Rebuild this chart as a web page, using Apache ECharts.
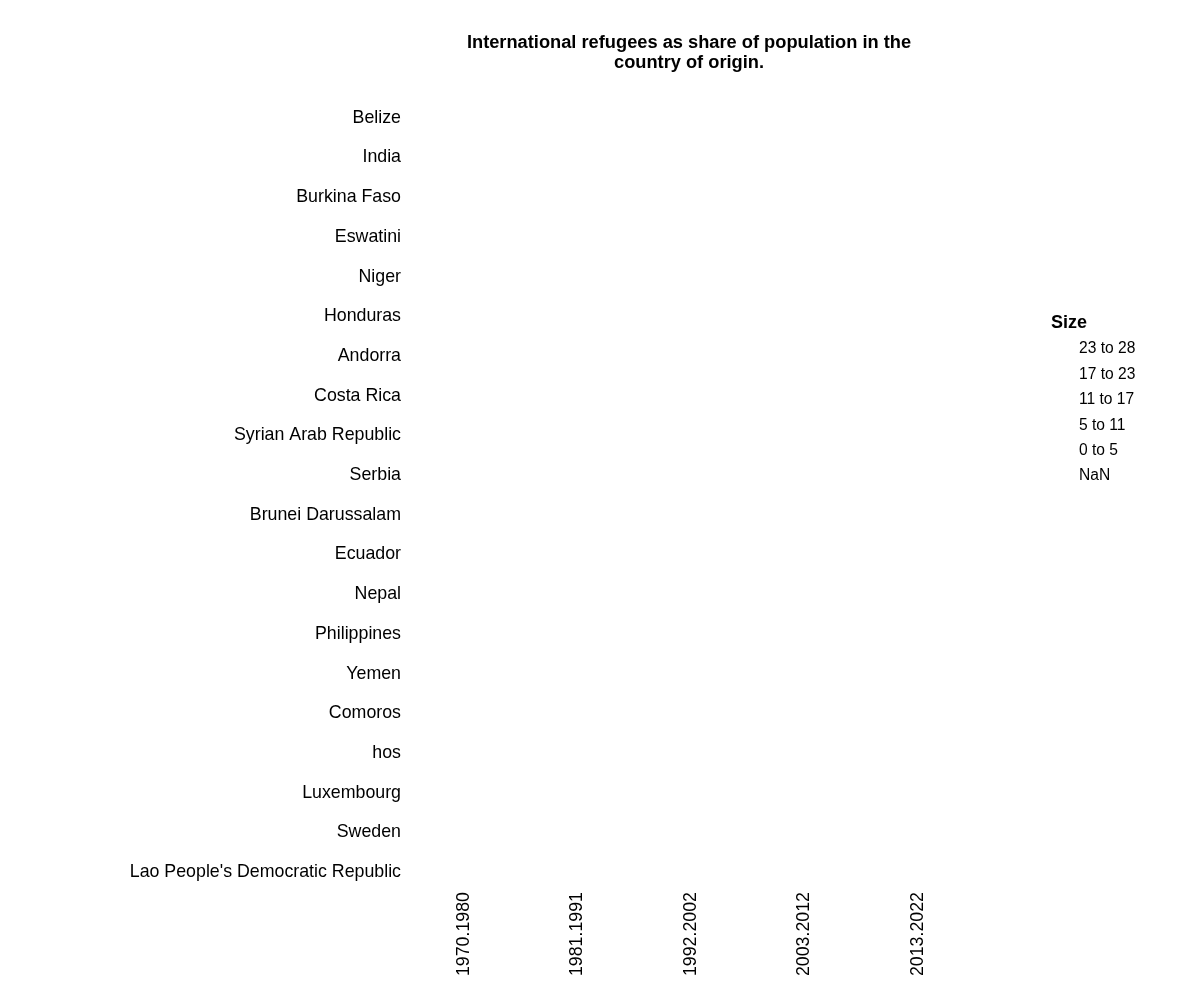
<!DOCTYPE html>
<html>
<head>
<meta charset="utf-8">
<script src="https://cdn.jsdelivr.net/npm/echarts@6/dist/echarts.min.js"></script>
<style>html,body{margin:0;padding:0;background:#fff}#c{width:1200px;height:1000px}</style>
</head>
<body>
<div id="c"></div>
<script>
var countries = ["Belize","India","Burkina Faso","Eswatini","Niger","Honduras","Andorra","Costa Rica","Syrian Arab Republic","Serbia","Brunei Darussalam","Ecuador","Nepal","Philippines","Yemen","Comoros","hos","Luxembourg","Sweden","Lao People's Democratic Republic"];
var periods = ["1970.1980","1981.1991","1992.2002","2003.2012","2013.2022"];
var sizeBins = ["23 to 28","17 to 23","11 to 17","5 to 11","0 to 5","NaN"];
// Values shown in the picture: none are drawn (all missing)
var sizes = [
  [null,null,null,null,null],[null,null,null,null,null],[null,null,null,null,null],[null,null,null,null,null],
  [null,null,null,null,null],[null,null,null,null,null],[null,null,null,null,null],[null,null,null,null,null],
  [null,null,null,null,null],[null,null,null,null,null],[null,null,null,null,null],[null,null,null,null,null],
  [null,null,null,null,null],[null,null,null,null,null],[null,null,null,null,null],[null,null,null,null,null],
  [null,null,null,null,null],[null,null,null,null,null],[null,null,null,null,null],[null,null,null,null,null]
];

var FONT = "'Liberation Sans', Arial, sans-serif";
var pts = [];
sizes.forEach(function(row, i){ row.forEach(function(v, j){ if (v !== null) pts.push([periods[j], countries[i], v]); }); });

var series = sizeBins.map(function(name){
  return { name: name, type: 'scatter', data: [], symbolSize: 10 };
});
series[0].data = pts;

var chart = echarts.init(document.getElementById('c'));
chart.setOption({
  animation: false,
  backgroundColor: '#ffffff',
  grid: { left: 407, top: 98, width: 568, height: 794 },
  xAxis: {
    type: 'category', data: periods,
    axisLine: {show:false}, axisTick: {show:false}, splitLine: {show:false},
    axisLabel: { rotate: 90, margin: 0, color: '#000', fontSize: 17.8, fontFamily: FONT, interval: 0 }
  },
  yAxis: {
    type: 'category', data: countries, inverse: true,
    axisLine: {show:false}, axisTick: {show:false}, splitLine: {show:false},
    axisLabel: { margin: 6, color: '#000', fontSize: 17.8, fontFamily: FONT, interval: 0 }
  },
  legend: {
    orient: 'vertical', left: 1049, top: 334,
    itemWidth: 20, itemHeight: 20, itemGap: 5.4,
    itemStyle: { opacity: 0 },
    textStyle: { color: '#000', fontSize: 15.6, fontFamily: FONT, lineHeight: 20 },
    data: sizeBins, selectedMode: false
  },
  graphic: [
    { type: 'text', x: 689, y: 53, style: { text: 'International refugees as share of population in the\ncountry of origin.', x: 0, y: 0, align: 'center', verticalAlign: 'middle', font: 'bold 18.25px ' + FONT, lineHeight: 20, fill: '#000' } },
    { type: 'text', x: 1051, y: 323, style: { text: 'Size', x: 0, y: 0, align: 'left', verticalAlign: 'middle', font: 'bold 18px ' + FONT, fill: '#000' } }
  ],
  series: series
});
</script>
</body>
</html>
